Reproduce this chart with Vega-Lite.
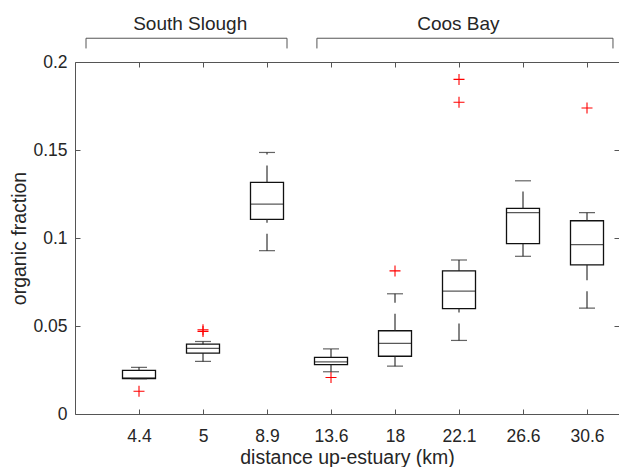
{
  "$schema": "https://vega.github.io/schema/vega-lite/v6.json",
  "autosize": {"type": "none"},
  "padding": {"left": 75, "top": 62, "right": 0, "bottom": 53},
  "width": 544,
  "height": 352,
  "background": "white",
  "config": {
    "font": "Liberation Sans",
    "view": {"stroke": null},
    "axis": {
      "grid": false,
      "domainColor": "#555555",
      "tickColor": "#555555",
      "domainWidth": 1,
      "tickWidth": 1,
      "labelColor": "#262626",
      "titleColor": "#262626",
      "labelFont": "Liberation Sans",
      "titleFont": "Liberation Sans",
      "labelFontSize": 17.5,
      "titleFontSize": 19.5,
      "titleFontWeight": "normal"
    }
  },
  "datasets": {
    "stats": [
      {"dist": "4.4", "lower": 0.0200, "q1": 0.0201, "median": 0.0205, "q3": 0.0248, "upper": 0.0265},
      {"dist": "5", "lower": 0.0299, "q1": 0.0346, "median": 0.0373, "q3": 0.0397, "upper": 0.0412},
      {"dist": "8.9", "lower": 0.0928, "q1": 0.1106, "median": 0.1193, "q3": 0.1316, "upper": 0.1486},
      {"dist": "13.6", "lower": 0.0240, "q1": 0.0281, "median": 0.0296, "q3": 0.0322, "upper": 0.0370},
      {"dist": "18", "lower": 0.0272, "q1": 0.0328, "median": 0.0401, "q3": 0.0473, "upper": 0.0683},
      {"dist": "22.1", "lower": 0.0418, "q1": 0.0599, "median": 0.0698, "q3": 0.0813, "upper": 0.0875},
      {"dist": "26.6", "lower": 0.0896, "q1": 0.0968, "median": 0.1144, "q3": 0.1168, "upper": 0.1325},
      {"dist": "30.6", "lower": 0.0601, "q1": 0.0847, "median": 0.0962, "q3": 0.1098, "upper": 0.1144}
    ],
    "outliers": [
      {"dist": "4.4", "value": 0.0129},
      {"dist": "5", "value": 0.0478},
      {"dist": "5", "value": 0.0469},
      {"dist": "13.6", "value": 0.0207},
      {"dist": "18", "value": 0.0813},
      {"dist": "22.1", "value": 0.1901},
      {"dist": "22.1", "value": 0.1771},
      {"dist": "30.6", "value": 0.1739}
    ],
    "groups": [
      {"group": "South Slough", "start": 0.172, "end": 3.3125, "mid": 1.80},
      {"group": "Coos Bay", "start": 3.78, "end": 8.406, "mid": 5.99}
    ],
    "legs": [
      {"pos": 0.172},
      {"pos": 3.3125},
      {"pos": 3.78},
      {"pos": 8.406}
    ]
  },
  "layer": [
    {
      "data": {"name": "stats"},
      "mark": {"type": "bar", "width": 33, "fill": "transparent", "stroke": "#111111", "strokeWidth": 1.3},
      "encoding": {
        "x": {
          "field": "dist", "type": "nominal",
          "scale": {"type": "point", "padding": 0.75, "align": 0.6667, "domain": ["4.4", "5", "8.9", "13.6", "18", "22.1", "26.6", "30.6"]},
          "title": "distance up-estuary (km)",
          "axis": {"orient": "bottom", "labelAngle": 0, "tickSize": -5, "labelPadding": 18, "titlePadding": 4}
        },
        "y": {
          "field": "q1", "type": "quantitative",
          "scale": {"domain": [0, 0.2], "nice": false, "zero": false},
          "title": "organic fraction",
          "axis": {"orient": "left", "values": [0, 0.05, 0.1, 0.15, 0.2], "format": "~g", "tickSize": -5, "labelPadding": 13, "titlePadding": 3}
        },
        "y2": {"field": "q3"}
      }
    },
    {
      "data": {"name": "stats"},
      "mark": {"type": "rule", "strokeDash": [17, 11], "color": "#222222", "strokeWidth": 1.1},
      "encoding": {
        "x": {"field": "dist", "type": "nominal", "scale": {"type": "point", "padding": 0.75, "align": 0.6667, "domain": ["4.4", "5", "8.9", "13.6", "18", "22.1", "26.6", "30.6"]}, "axis": null},
        "y": {"field": "lower", "type": "quantitative", "axis": null},
        "y2": {"field": "q1"}
      }
    },
    {
      "data": {"name": "stats"},
      "mark": {"type": "rule", "strokeDash": [17, 11], "color": "#222222", "strokeWidth": 1.1},
      "encoding": {
        "x": {"field": "dist", "type": "nominal", "scale": {"type": "point", "padding": 0.75, "align": 0.6667, "domain": ["4.4", "5", "8.9", "13.6", "18", "22.1", "26.6", "30.6"]}, "axis": null},
        "y": {"field": "q3", "type": "quantitative", "axis": null},
        "y2": {"field": "upper"}
      }
    },
    {
      "data": {"name": "stats"},
      "mark": {"type": "tick", "orient": "horizontal", "size": 33, "thickness": 1.3, "color": "#111111"},
      "encoding": {
        "x": {"field": "dist", "type": "nominal", "scale": {"type": "point", "padding": 0.75, "align": 0.6667, "domain": ["4.4", "5", "8.9", "13.6", "18", "22.1", "26.6", "30.6"]}, "axis": null},
        "y": {"field": "median", "type": "quantitative", "axis": null}
      }
    },
    {
      "data": {"name": "stats"},
      "mark": {"type": "tick", "orient": "horizontal", "size": 16, "thickness": 1.2, "color": "#222222"},
      "encoding": {
        "x": {"field": "dist", "type": "nominal", "scale": {"type": "point", "padding": 0.75, "align": 0.6667, "domain": ["4.4", "5", "8.9", "13.6", "18", "22.1", "26.6", "30.6"]}, "axis": null},
        "y": {"field": "lower", "type": "quantitative", "axis": null}
      }
    },
    {
      "data": {"name": "stats"},
      "mark": {"type": "tick", "orient": "horizontal", "size": 16, "thickness": 1.2, "color": "#222222"},
      "encoding": {
        "x": {"field": "dist", "type": "nominal", "scale": {"type": "point", "padding": 0.75, "align": 0.6667, "domain": ["4.4", "5", "8.9", "13.6", "18", "22.1", "26.6", "30.6"]}, "axis": null},
        "y": {"field": "upper", "type": "quantitative", "axis": null}
      }
    },
    {
      "data": {"name": "outliers"},
      "mark": {"type": "point", "shape": "M-1,0L1,0M0,-1L0,1", "size": 121, "filled": false, "stroke": "#ff0000", "strokeWidth": 1.1, "opacity": 1},
      "encoding": {
        "x": {"field": "dist", "type": "nominal", "scale": {"type": "point", "padding": 0.75, "align": 0.6667, "domain": ["4.4", "5", "8.9", "13.6", "18", "22.1", "26.6", "30.6"]}, "axis": null},
        "y": {"field": "value", "type": "quantitative", "axis": null}
      }
    },
    {
      "data": {"name": "groups"},
      "mark": {"type": "rule", "color": "#555555", "strokeWidth": 1},
      "encoding": {
        "x": {
          "field": "start", "type": "quantitative",
          "scale": {"domain": [0, 8.5], "nice": false, "zero": false},
          "axis": {"orient": "top", "values": [1, 2, 3, 4, 5, 6, 7, 8], "labels": false, "tickSize": -5, "title": null}
        },
        "x2": {"field": "end"},
        "y": {
          "datum": 0.2135, "type": "quantitative",
          "axis": {"orient": "right", "values": [0.05, 0.1, 0.15], "labels": false, "domain": false, "tickSize": -5, "title": null}
        }
      }
    },
    {
      "data": {"name": "legs"},
      "mark": {"type": "rule", "color": "#555555", "strokeWidth": 1},
      "encoding": {
        "x": {"field": "pos", "type": "quantitative", "scale": {"domain": [0, 8.5], "nice": false, "zero": false}, "axis": null},
        "y": {"datum": 0.2135, "type": "quantitative", "axis": null},
        "y2": {"datum": 0.2077}
      }
    },
    {
      "data": {"name": "groups"},
      "mark": {"type": "text", "align": "center", "baseline": "alphabetic", "fontSize": 19, "color": "#262626", "font": "Liberation Sans"},
      "encoding": {
        "x": {"field": "mid", "type": "quantitative", "scale": {"domain": [0, 8.5], "nice": false, "zero": false}, "axis": null},
        "y": {"datum": 0.2182, "type": "quantitative", "axis": null},
        "text": {"field": "group"}
      }
    }
  ],
  "resolve": {"scale": {"x": "independent"}, "axis": {"x": "independent", "y": "independent"}}
}
